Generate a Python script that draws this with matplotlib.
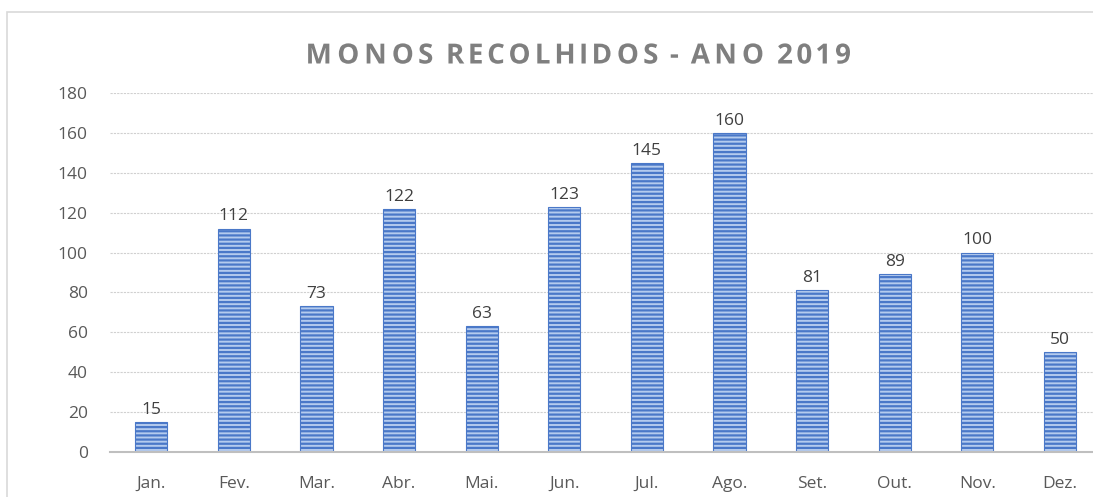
import matplotlib
matplotlib.use("Agg")
import numpy as np
import matplotlib.pyplot as plt
from matplotlib.patches import Rectangle
from matplotlib.path import Path
from matplotlib.patheffects import AbstractPathEffect
from matplotlib.transforms import IdentityTransform

months = ["Jan.", "Fev.", "Mar.", "Abr.", "Mai.", "Jun.", "Jul.", "Ago.", "Set.", "Out.", "Nov.", "Dez."]
values = [15, 112, 73, 122, 63, 123, 145, 160, 81, 89, 100, 50]
yticks = [0, 20, 40, 60, 80, 100, 120, 140, 160, 180]
title = "MONOS RECOLHIDOS - ANO 2019"


class LetterSpacing(AbstractPathEffect):
    """Spread glyphs apart horizontally (letter spacing) without stretching them."""
    def __init__(self, factor):
        super().__init__()
        self.factor = factor

    def draw_path(self, renderer, gc, tpath, affine, rgbFace=None):
        path = affine.transform_path(tpath)
        verts = path.vertices
        codes = path.codes
        if codes is None or len(verts) == 0:
            renderer.draw_path(gc, path, IdentityTransform(), rgbFace)
            return
        starts = [i for i, c in enumerate(codes) if c == Path.MOVETO] + [len(codes)]
        subs = [(starts[k], starts[k + 1]) for k in range(len(starts) - 1)]
        boxes = []
        for a, b in subs:
            v = verts[a:b]
            boxes.append((v[:, 0].min(), v[:, 0].max(), v[:, 1].min(), v[:, 1].max()))
        owner = list(range(len(subs)))
        for i, bi in enumerate(boxes):
            for j, bj in enumerate(boxes):
                if i != j and bj[0] <= bi[0] + 0.01 and bj[1] >= bi[1] - 0.01 \
                        and bj[2] <= bi[2] + 0.01 and bj[3] >= bi[3] - 0.01 \
                        and (bj[1] - bj[0]) * (bj[3] - bj[2]) > (bi[1] - bi[0]) * (bi[3] - bi[2]):
                    owner[i] = j
                    break
        xmin = verts[:, 0].min()
        xmax = verts[:, 0].max()
        xc = 0.5 * (xmin + xmax)
        newv = verts.copy()
        for i, (a, b) in enumerate(subs):
            bo = boxes[owner[i]]
            cx = 0.5 * (bo[0] + bo[1])
            newv[a:b, 0] += (self.factor - 1.0) * (cx - xc)
        renderer.draw_path(gc, Path(newv, codes), IdentityTransform(), rgbFace)


plt.rcParams['hatch.linewidth'] = 1.6
plt.rcParams['font.family'] = ['Open Sans', 'DejaVu Sans']

fig = plt.figure(figsize=(10.93, 4.97), dpi=100)
fig.patches.append(Rectangle((7/1093, -0.1), 1.2, (497-12)/497 + 0.1, transform=fig.transFigure,
                             fill=False, edgecolor='#D9D9D9', linewidth=1.2))

ax = fig.add_axes([110/1093, 1-452/497, 12*82.6/1093, (452-93)/497])
x = list(range(len(months)))
bars = ax.bar(x, values, width=0.39, color='#B4CBEE', edgecolor='#4A78C8',
              linewidth=0.8, hatch='----', zorder=3)
ax.set_xlim(-0.5, 11.5)
ax.set_ylim(0, 180)
ax.set_yticks(yticks)
ax.set_xticks(x)
ax.set_xticklabels(months)
ax.tick_params(axis='both', length=0, colors='#595959', labelsize=12.5)
ax.tick_params(axis='x', pad=17)
ax.tick_params(axis='y', pad=16)
ax.grid(axis='y', color='#D0D0D0', linestyle=(0, (2, 1)), linewidth=0.8, zorder=0)
for s in ['top', 'right', 'left']:
    ax.spines[s].set_visible(False)
ax.spines['bottom'].set_color('#BFBFBF')
ax.spines['bottom'].set_linewidth(1.5)
ax.spines['bottom'].set_zorder(4)

for xi, v in zip(x, values):
    ax.annotate(str(v), (xi, v), xytext=(0, 3), textcoords='offset points',
                ha='center', va='bottom', fontsize=12.5, color='#404040')

fig.text(578/1093, 1-56/497, title, ha='center', va='center', fontsize=20,
         fontweight='bold', color='#7F7F7F', path_effects=[LetterSpacing(1.22)])

fig.savefig("out.png", dpi=100)
